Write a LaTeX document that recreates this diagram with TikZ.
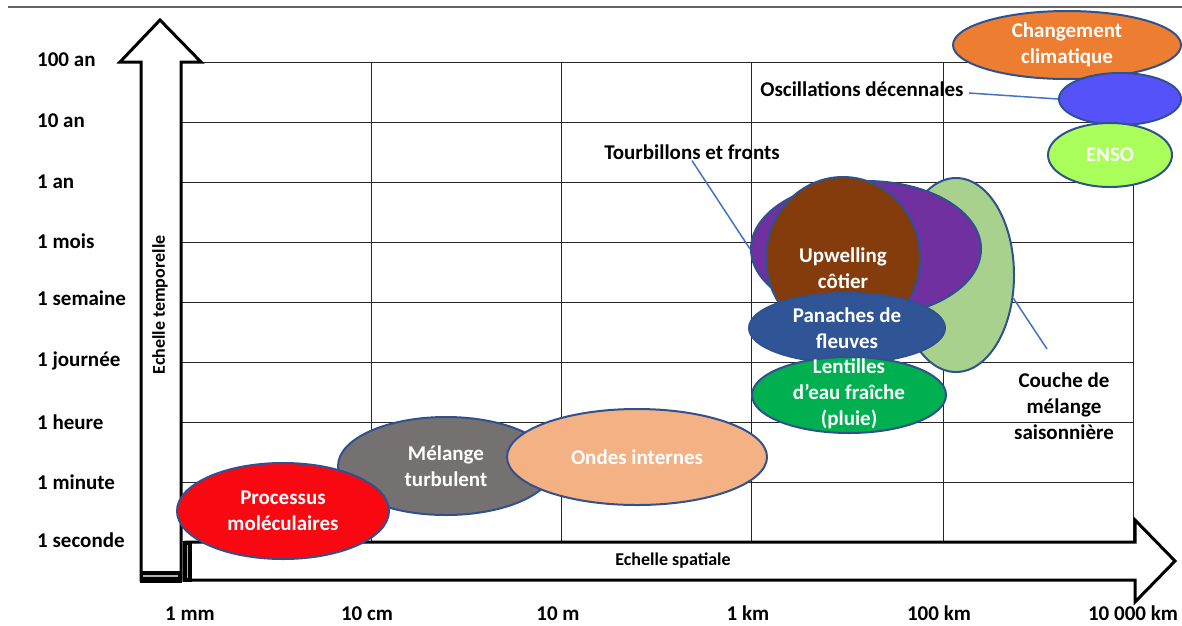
\documentclass[tikz,border=0pt]{standalone}
\usepackage{fontspec}
\setmainfont{Carlito}
\usetikzlibrary{shapes.geometric}
\definecolor{cred}{RGB}{250,8,18}
\definecolor{cgray}{HTML}{767171}
\definecolor{cpeach}{HTML}{F4B183}
\definecolor{cpurple}{HTML}{7030A0}
\definecolor{cbrown}{HTML}{843C0C}
\definecolor{clgreen}{HTML}{A9D18E}
\definecolor{cnavy}{HTML}{2F5597}
\definecolor{cgreen}{HTML}{00B050}
\definecolor{corange}{HTML}{ED7D31}
\definecolor{cblue}{RGB}{85,82,250}
\definecolor{clime}{RGB}{170,255,90}
\definecolor{cline}{HTML}{2F528F}
\definecolor{clead}{HTML}{4472C4}
\begin{document}
\begin{tikzpicture}[x=1pt,y=-1pt,
  font=\bfseries\fontsize{21}{26}\selectfont,
  blob/.style={ellipse, draw=cline, line width=2pt, inner sep=0pt},
  wtext/.style={text=white, align=center, inner sep=0pt},
  lbl/.style={text=black, align=center, inner sep=1pt},
  gridline/.style={draw=black!85, line width=1pt},
  arrowshape/.style={draw=black, line width=3pt, fill=white, line join=miter},
  lead/.style={draw=clead, line width=1.5pt}]
\useasboundingbox (0,0) rectangle (1182,625);
% top rule
\draw[gray!80!black, line width=1.2pt] (8,7) -- (1182,7);
% grid
\foreach \yy in {62,122,182,242,302,362,422,482}
  \draw[gridline] (181,\yy) -- (1133,\yy);
\foreach \xx in {371,561,751,943,1133}
  \draw[gridline] (\xx,62) -- (\xx,542);
% vertical arrow
\draw[arrowshape] (141,580) -- (141,62) -- (120,62) -- (160,20) -- (201,62) -- (181,62) -- (181,580) -- cycle;
\fill[black] (140,571) rectangle (182,583);
\draw[gray!60, line width=1.2pt] (143,576) -- (178,576);
\node[font=\bfseries\fontsize{18}{22}\selectfont, rotate=90] (vlab) at (160,305) {Echelle temporelle};
% horizontal arrow
\draw[arrowshape] (186,542) -- (1135,542) -- (1135,520) -- (1175,561) -- (1135,602) -- (1135,580) -- (186,580) -- cycle;
\fill[black] (183,541) rectangle (192,582);
\draw[gray!60, line width=1.2pt] (187.5,545) -- (187.5,578);
\node[font=\bfseries\fontsize{18}{22}\selectfont] (hlab) at (673,561) {Echelle spatiale};
% time labels
\foreach \t/\yy [count=\i] in {100 an/60,10 an/121,1 an/182,1 mois/241,1 semaine/298,1 journée/361,1 heure/422,1 minute/482,1 seconde/540}
  \node[anchor=west, inner sep=0pt] (t\i) at (37,\yy) {\t};
% space labels
\foreach \s/\xx [count=\i] in {1 mm/190,10 cm/367,10 m/558,1 km/748,100 km/939,10 000 km/1133}
  \node[anchor=base, inner sep=0pt] (s\i) at (\xx,620) {\s};
% ellipses
\node[blob, fill=cgray, minimum width=216, minimum height=98] (turb) at (446,466) {};
\node[wtext] (turbt) at (446,466) {Mélange\\turbulent};
\node[blob, fill=cred, minimum width=212, minimum height=96] (mol) at (283,511) {};
\node[wtext] (molt) at (283,511) {Processus\\moléculaires};
\node[blob, fill=cpeach, minimum width=260, minimum height=96] (ondes) at (637,457) {};
\node[wtext] (ondest) at (637,457) {Ondes internes};
\node[blob, fill=clgreen, minimum width=116, minimum height=194] (couche) at (956,275) {};
\node[blob, fill=cpurple, minimum width=230, minimum height=136] (tourb) at (866,249) {};
\node[blob, fill=cbrown, minimum width=154, minimum height=162] (upw) at (843,258) {};
\node[wtext] (upwt) at (843,268) {Upwelling\\côtier};
\node[blob, fill=cnavy, minimum width=196, minimum height=70] (pan) at (847,328) {};
\node[wtext] (pant) at (847,328) {Panaches de\\fleuves};
\node[blob, fill=cgreen, minimum width=194, minimum height=76] (lent) at (849,395) {};
\node[wtext] (lentt) at (849,394) {Lentilles\\d’eau fraîche\\(pluie)};
\node[blob, fill=corange, minimum width=228, minimum height=68] (clim) at (1067,45) {};
\node[wtext] (climt) at (1067,45) {Changement\\climatique};
\node[blob, fill=cblue, minimum width=122, minimum height=52] (osc) at (1120,99) {};
\node[blob, fill=clime, minimum width=124, minimum height=64] (enso) at (1110,155) {};
\node[wtext] (ensot) at (1110,155) {ENSO};
% labels with leaders
\node[lbl] (osclbl) at (862,89) {Oscillations décennales};
\draw[lead] (osclbl.east) ++(4,4) -- (osc.west);
\node[lbl] (tlbl) at (692,152) {Tourbillons et fronts};
\draw[lead] (tlbl.south) -- (tourb.west);
\node[lbl] (clbl) at (1064,406) {Couche de\\mélange\\saisonnière};
\coordinate (cend) at (1047,349);
\draw[lead] (couche.-22) -- (cend);
\end{tikzpicture}
\end{document}
